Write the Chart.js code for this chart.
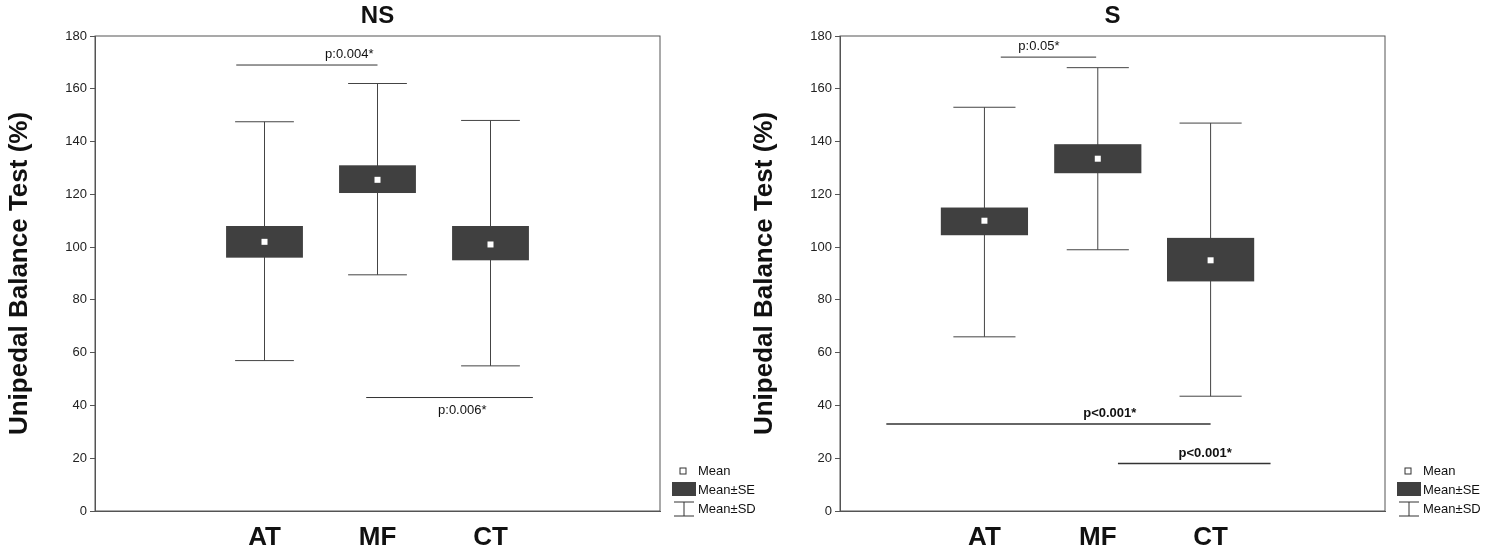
<!DOCTYPE html>
<html><head><meta charset="utf-8">
<script src="https://cdn.jsdelivr.net/npm/chart.js@4/dist/chart.umd.min.js"></script>
<style>
body{margin:0;background:#fff;width:1500px;height:558px;overflow:hidden;position:relative}
.pane{position:absolute;top:0;height:558px}
</style></head><body>
<div class="pane" style="left:0;width:800px"><canvas id="ns"></canvas></div>
<div class="pane" style="left:745px;width:755px"><canvas id="s"></canvas></div>
<script>
const categories = ['AT', 'MF', 'CT'];
const nsPos = [3, 5, 7];
const nsMean = [102, 125.5, 101];
const nsSeLo = [96, 120.5, 95];
const nsSeHi = [108, 131, 108];
const nsSdLo = [57, 89.5, 55];
const nsSdHi = [147.5, 162, 148];
const sPos = [2.65, 4.73, 6.8];
const sMean = [110, 133.5, 95];
const sSeLo = [104.5, 128, 87];
const sSeHi = [115, 139, 103.5];
const sSdLo = [66, 99, 43.5];
const sSdHi = [153, 168, 147];
const yTicks = [0, 20, 40, 60, 80, 100, 120, 140, 160, 180];
// annotations: [x1, x2, y, label, labelX, labelAbove, bold]
const nsNotes = [[2.5, 5, 169, 'p:0.004*', 4.5, true, false], [4.8, 7.75, 43, 'p:0.006*', 6.5, false, false]];
const sNotes = [[2.95, 4.7, 172, 'p:0.05*', 3.65, true, false], [0.85, 6.8, 33, 'p<0.001*', 4.95, true, true], [5.1, 7.9, 18, 'p<0.001*', 6.7, true, true]];

const boxPlugin = {
  id: 'boxes',
  afterDatasetsDraw(chart, args, o) {
    const c = chart.ctx, x = chart.scales.x, y = chart.scales.y, a = chart.chartArea;
    c.save();
    // frame
    c.strokeStyle = '#555'; c.lineWidth = 1;
    c.strokeRect(a.left, a.top, a.right - a.left, a.bottom - a.top);
    o.pos.forEach((p, i) => {
      const cx = x.getPixelForValue(p);
      const bw = (x.getPixelForValue(p + o.box) - cx);
      const cw = (x.getPixelForValue(p + o.cap) - cx);
      c.strokeStyle = '#444'; c.lineWidth = 1;
      c.beginPath();
      c.moveTo(cx, y.getPixelForValue(o.sdLo[i])); c.lineTo(cx, y.getPixelForValue(o.sdHi[i]));
      c.moveTo(cx - cw, y.getPixelForValue(o.sdLo[i])); c.lineTo(cx + cw, y.getPixelForValue(o.sdLo[i]));
      c.moveTo(cx - cw, y.getPixelForValue(o.sdHi[i])); c.lineTo(cx + cw, y.getPixelForValue(o.sdHi[i]));
      c.stroke();
      const t = y.getPixelForValue(o.seHi[i]), b = y.getPixelForValue(o.seLo[i]);
      c.fillStyle = '#404040';
      c.fillRect(cx - bw, t, bw * 2, b - t);
      c.fillStyle = '#fff';
      const m = y.getPixelForValue(o.mean[i]);
      c.fillRect(cx - 3, m - 3, 6, 6);
    });
    o.notes.forEach(n => {
      const yy = y.getPixelForValue(n[2]);
      c.strokeStyle = '#333'; c.lineWidth = n[6] ? 1.5 : 1;
      c.beginPath(); c.moveTo(x.getPixelForValue(n[0]), yy); c.lineTo(x.getPixelForValue(n[1]), yy); c.stroke();
      c.fillStyle = '#111';
      c.font = (n[6] ? 'bold ' : '') + '13px Arial, "Liberation Sans"';
      c.textAlign = 'center'; c.textBaseline = n[5] ? 'bottom' : 'top';
      c.fillText(n[3], x.getPixelForValue(n[4]), n[5] ? yy - 4 : yy + 6);
    });
    // title
    c.fillStyle = '#111'; c.font = 'bold 24px Arial, "Liberation Sans"';
    c.textAlign = 'center'; c.textBaseline = 'middle';
    c.fillText(o.title, (a.left + a.right) / 2, 16);
    // legend
    const lx = a.right + 12, ly = a.bottom - 40;
    c.font = '13px Arial, "Liberation Sans"'; c.textAlign = 'left';
    c.strokeStyle = '#333'; c.lineWidth = 1;
    c.strokeRect(lx + 8, ly - 3, 6, 6);
    c.fillText('Mean', lx + 26, ly);
    c.fillStyle = '#404040'; c.fillRect(lx, ly + 11, 24, 14);
    c.fillStyle = '#111'; c.fillText('Mean±SE', lx + 26, ly + 19);
    c.beginPath();
    c.moveTo(lx + 2, ly + 31); c.lineTo(lx + 22, ly + 31);
    c.moveTo(lx + 12, ly + 31); c.lineTo(lx + 12, ly + 45);
    c.moveTo(lx + 2, ly + 45); c.lineTo(lx + 22, ly + 45); c.stroke();
    c.fillText('Mean±SD', lx + 26, ly + 38);
    c.restore();
  }
};

function makeChart(id, title, pos, mean, seLo, seHi, sdLo, sdHi, notes, rightPad, box, cap) {
  new Chart(document.getElementById(id), {
    type: 'scatter',
    data: { datasets: [{ data: pos.map((p, i) => ({ x: p, y: mean[i] })), pointRadius: 0 }] },
    options: {
      responsive: false, animation: false,
      layout: { padding: { top: 36, right: rightPad, left: 0, bottom: 0 } },
      plugins: { legend: { display: false }, tooltip: { enabled: false },
        boxes: { title, pos, mean, seLo, seHi, sdLo, sdHi, notes, box, cap } },
      scales: {
        x: { min: 0, max: 10, grid: { display: false }, border: { color: '#555' },
          afterFit: s => { s.height = 47; },
          afterBuildTicks: s => { s.ticks = pos.map(v => ({ value: v })); },
          ticks: { color: '#111', font: { size: 26, weight: 'bold', family: 'Arial, "Liberation Sans"' },
            callback: (v, i) => categories[i], maxRotation: 0 } },
        y: { min: 0, max: 180, border: { color: '#555' },
          grid: { display: true, drawOnChartArea: false, tickLength: 5, color: '#555' },
          afterFit: s => { s.width = 95; },
          afterBuildTicks: s => { s.ticks = yTicks.map(v => ({ value: v })); },
          ticks: { color: '#222', font: { size: 13, family: 'Arial, "Liberation Sans"' } },
          title: { display: true, text: 'Unipedal Balance Test (%)', color: '#111',
            font: { size: 26, weight: 'bold', family: 'Arial, "Liberation Sans"' } } }
      }
    },
    plugins: [boxPlugin]
  }).canvas;
}
const cvN = document.getElementById('ns'); cvN.width = 800; cvN.height = 558;
const cvS = document.getElementById('s'); cvS.width = 755; cvS.height = 558;
makeChart('ns', 'NS', nsPos, nsMean, nsSeLo, nsSeHi, nsSdLo, nsSdHi, nsNotes, 140, 0.68, 0.52);
makeChart('s', 'S', sPos, sMean, sSeLo, sSeHi, sSdLo, sSdHi, sNotes, 115, 0.8, 0.57);
</script></body></html>
